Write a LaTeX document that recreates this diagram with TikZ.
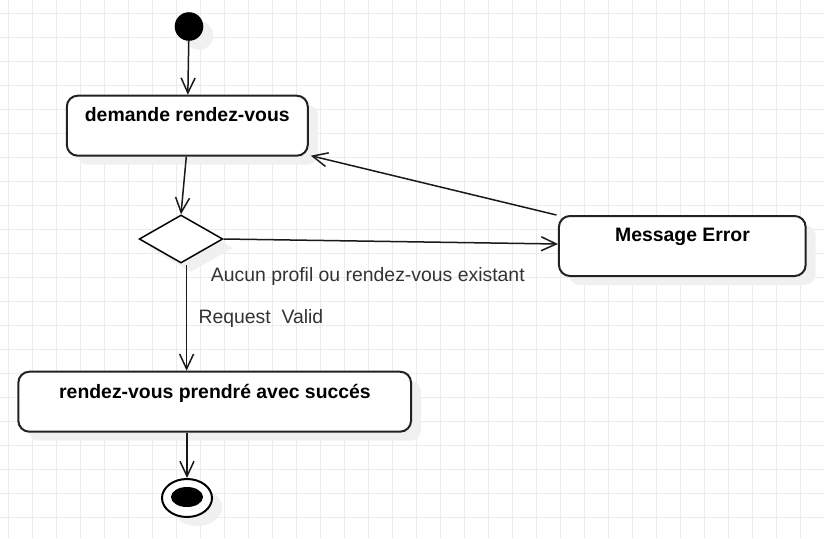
\documentclass[tikz,border=0pt]{standalone}
\usepackage{fontspec}
\setmainfont{Liberation Sans}
\usetikzlibrary{arrows.meta,shapes.geometric,shadows}
\definecolor{gridc}{HTML}{EBEBEB}
\definecolor{shadowc}{HTML}{F0F0F0}
\definecolor{edgetext}{HTML}{333333}
\definecolor{strokec}{HTML}{222222}
\tikzset{
  gridline/.style={draw=gridc, line width=1pt},
  shad/.style={drop shadow={shadow xshift=10pt, shadow yshift=-9pt, fill=shadowc, opacity=1}},
  actbox/.style={draw=strokec, line width=2pt, fill=white, rounded corners=11pt, inner sep=0pt, shad},
  boxtext/.style={font=\fontsize{19.4}{23}\selectfont\bfseries, text=black, inner sep=0pt, anchor=base},
  edgelabel/.style={font=\fontsize{19.4}{23}\selectfont, text=edgetext, inner sep=0pt, anchor=base west},
  decision/.style={diamond, draw=black, line width=1.5pt, fill=white, inner sep=0pt, shad},
  arr/.style={draw=black!90, line width=1.5pt, -{Straight Barb[length=15pt,width=14pt]}},
}
\begin{document}
\begin{tikzpicture}[x=1pt,y=-1pt]
\useasboundingbox (0,0) rectangle (824,538);
\fill[white] (0,0) rectangle (824,538);
% grid
\foreach \gx in {8,32,...,824} \draw[gridline] (\gx,0) -- (\gx,538);
\foreach \gy in {13,37,...,538} \draw[gridline] (0,\gy) -- (824,\gy);

% start
\node[circle, fill=black, minimum size=28.6pt, inner sep=0pt, shad] (start) at (189,26.5) {};

% boxes
\node[actbox, minimum width=241pt, minimum height=60pt] (b1) at (187.3,125.7) {};
\node[boxtext] (t1) at (187.3,121.5) {demande rendez-vous};

\node[decision, minimum width=83.7pt, minimum height=48pt] (dia) at (181,239) {};

\node[actbox, minimum width=246.7pt, minimum height=60pt] (err) at (682.3,246) {};
\node[boxtext] (t2) at (682.5,241.7) {Message Error};

\node[actbox, minimum width=392.7pt, minimum height=60pt] (b3) at (214.7,401.7) {};
\node[boxtext] (t3) at (215,398.3) {rendez-vous prendré avec succés};

% end
\node[ellipse, draw=black, line width=2pt, fill=white, minimum width=50pt, minimum height=38pt, inner sep=0pt, shad] (end) at (187,498) {};
\node[ellipse, fill=black, minimum width=32pt, minimum height=20pt, inner sep=0pt] (endin) at (187,497) {};

% labels
\node[edgelabel] (l1) at (210.7,281.7) {Aucun profil ou rendez-vous existant};
\node[edgelabel] (l2) at (198.3,323.3) {Request\ \ Valid};

% connectors
\draw[arr] (start) -- (b1);
\draw[arr] ([xshift=-1pt]b1.south) -- (dia.north);
\draw[arr] (dia.east) -- ([yshift=2pt]err.west);
\draw[arr] ([xshift=-1.5pt]err.north west) -- ([xshift=2pt,yshift=1pt]b1.south east);
\draw[arr] ([xshift=5.6pt,yshift=-1pt]dia.south) -- ([xshift=5.6pt]dia.south |- b3.north);
\draw[arr] (b3.south -| end.north) -- (end.north);
\end{tikzpicture}
\end{document}
